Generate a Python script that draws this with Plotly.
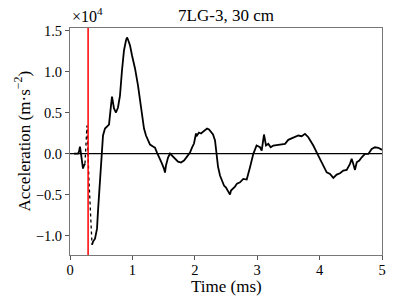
import plotly.graph_objects as go

# acceleration in units of 1e4 m/s^2, time in ms
pre_t = [0.064, 0.128, 0.144, 0.160, 0.176, 0.192, 0.208, 0.224, 0.240]
pre_a = [0.0, 0.0, 0.024, 0.085, 0.0, -0.085, -0.183, -0.146, -0.122]

gap_t = [0.240, 0.256, 0.272, 0.304, 0.337, 0.353]
gap_a = [-0.122, 0.098, 0.341, -0.329, -0.939, -1.110]

main_t = [0.353, 0.369, 0.401, 0.433, 0.449, 0.481, 0.497, 0.513, 0.529, 0.561,
          0.593, 0.625, 0.657, 0.673, 0.705, 0.737, 0.769, 0.801, 0.833, 0.865,
          0.897, 0.913, 0.929, 0.962, 0.994, 1.042, 1.090, 1.122, 1.154, 1.186,
          1.218, 1.250, 1.282, 1.330, 1.362, 1.394, 1.442, 1.474, 1.506, 1.522,
          1.538, 1.571, 1.603, 1.635, 1.683, 1.731, 1.779, 1.827, 1.875, 1.923,
          1.955, 1.987, 2.003, 2.019, 2.035, 2.067, 2.099, 2.131, 2.163, 2.196,
          2.228, 2.260, 2.292, 2.324, 2.340, 2.356, 2.372, 2.404, 2.436, 2.468,
          2.500, 2.532, 2.564, 2.580, 2.612, 2.644, 2.676,
          2.724, 2.777, 2.832, 2.885, 2.938, 2.990, 3.045, 3.072, 3.109, 3.141,
          3.178, 3.216, 3.258, 3.365, 3.446, 3.498, 3.579, 3.659, 3.713, 3.766,
          3.819, 3.899, 3.979, 4.059, 4.114, 4.167, 4.220, 4.274, 4.327, 4.380,
          4.434, 4.487, 4.514, 4.540, 4.567, 4.595, 4.636, 4.675, 4.728, 4.781,
          4.835, 4.888, 4.941, 5.000]
main_a = [-1.110, -1.073, -1.037, -0.915, -0.695, -0.268, -0.085, 0.037, 0.220, 0.305,
          0.329, 0.354, 0.585, 0.695, 0.549, 0.500, 0.561, 0.707, 1.012, 1.256,
          1.378, 1.415, 1.390, 1.317, 1.195, 1.037, 0.829, 0.646, 0.463, 0.305,
          0.220, 0.159, 0.110, 0.085, 0.073, 0.012, -0.061, -0.122, -0.183, -0.232,
          -0.146, -0.049, 0.0, -0.024, -0.073, -0.098, -0.110, -0.085, -0.037, 0.012,
          0.073, 0.122, 0.183, 0.244, 0.220, 0.256, 0.244, 0.268, 0.280, 0.305,
          0.293, 0.256, 0.232, 0.159, 0.061, -0.061, -0.159, -0.268, -0.341, -0.390,
          -0.415, -0.451, -0.500, -0.451, -0.427, -0.402, -0.366,
          -0.350, -0.309, -0.317, -0.167, -0.004, 0.098, 0.077, 0.037, 0.232, 0.098,
          0.118, 0.077, 0.098, 0.110, 0.118, 0.167, 0.191, 0.220, 0.211, 0.240,
          0.199, 0.098, -0.024, -0.146, -0.228, -0.248, -0.296, -0.256, -0.240, -0.207,
          -0.199, -0.126, -0.065, -0.126, -0.199, -0.106, -0.085, -0.045, -0.004, -0.004,
          0.057, 0.077, 0.070, 0.045]

trigger_t = 0.29
x_ticks = [0, 1, 2, 3, 4, 5]
y_ticks = [-1.0, -0.5, 0.0, 0.5, 1.0, 1.5]

FONT = "Liberation Serif"

fig = go.Figure()

fig.add_hline(y=0, line=dict(color="black", width=1.3))

fig.add_trace(go.Scatter(x=pre_t, y=pre_a, mode="lines",
                         line=dict(color="black", width=1.8)))
fig.add_trace(go.Scatter(x=gap_t, y=gap_a, mode="lines",
                         line=dict(color="black", width=1.3, dash="dot")))
fig.add_trace(go.Scatter(x=main_t, y=main_a, mode="lines",
                         line=dict(color="black", width=1.8)))

fig.add_vline(x=trigger_t, line=dict(color="red", width=1.5))

axis_style = dict(ticks="outside", ticklen=4, tickcolor="#555",
                  showgrid=False, zeroline=False, automargin=False,
                  showline=True, linecolor="#777", linewidth=1, mirror=True,
                  tickfont=dict(size=14.5))
fig.update_xaxes(range=[0, 5], tickvals=x_ticks, ticklabelstandoff=-2,
                 **axis_style)
fig.update_yaxes(range=[-1.236, 1.53], tickvals=y_ticks, tickformat=".1f",
                 **axis_style)

fig.add_annotation(text="×10<sup>4</sup>", x=0, y=1.0, xref="paper", yref="paper",
                   xanchor="left", yanchor="bottom", yshift=1, showarrow=False,
                   font=dict(size=16, family=FONT, color="black"))
fig.add_annotation(text="Time (ms)", x=0.5, y=0, xref="paper", yref="paper",
                   xanchor="center", yanchor="middle", yshift=-31, showarrow=False,
                   font=dict(size=17, family=FONT, color="black"))
fig.add_annotation(text="Acceleration (m·s<sup>−2</sup>)", x=0, y=0.5,
                   xref="paper", yref="paper", textangle=-90,
                   xanchor="center", yanchor="middle", xshift=-48, showarrow=False,
                   font=dict(size=17, family=FONT, color="black"))

fig.update_layout(
    width=395, height=304,
    margin=dict(l=70, r=13, t=28, b=49),
    paper_bgcolor="white", plot_bgcolor="white",
    showlegend=False,
    font=dict(family=FONT, size=14.5, color="black"),
    title=dict(text="7LG-3, 30 cm", x=226 / 395, xanchor="center",
               y=1 - 15 / 304, yanchor="middle", font=dict(size=17)),
)

# drop the page's default body margin so the figure sits at the window corner
fig.write_html("out.html", config={"displayModeBar": False},
               post_script="document.body.style.margin = '0';")
